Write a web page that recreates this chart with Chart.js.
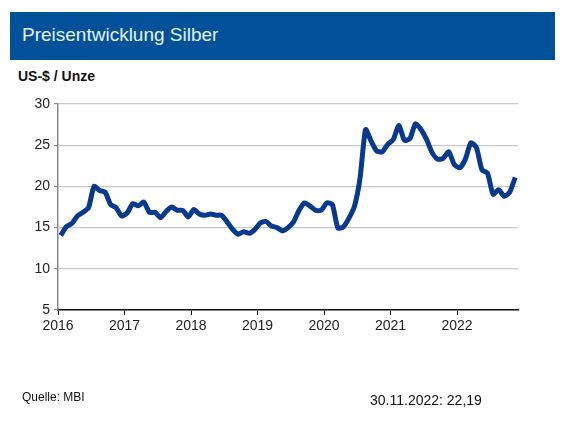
<!DOCTYPE html>
<html lang="de">
<head>
  <meta charset="UTF-8">
  <title>Preisentwicklung Silber</title>
  <script src="https://cdn.jsdelivr.net/npm/chart.js@4.4.0/dist/chart.umd.min.js"></script>
  <style>
    body { margin: 0; background: #fff; font-family: Arial, "Liberation Sans", sans-serif; }
    #wrap { position: relative; width: 565px; height: 426px; overflow: hidden; }
    #banner { position: absolute; left: 10px; top: 12px; width: 545px; height: 48px; background: #01519a; }
    #banner span { position: absolute; left: 12px; top: 12px; font-size: 19px; color: #e4f3fa; }
    #unit { position: absolute; left: 18px; top: 68px; font-size: 14px; font-weight: bold; color: #111; }
    #source { position: absolute; left: 22px; top: 390px; font-size: 12px; color: #111; }
    #last { position: absolute; left: 370px; top: 392px; font-size: 14px; color: #111; }
    #chart { position: absolute; left: 0; top: 0; }
  </style>
</head>
<body>
  <div id="wrap">
    <div id="banner"><span>Preisentwicklung Silber</span></div>
    <div id="unit">US-$ / Unze</div>
    <canvas id="chart" width="565" height="426"></canvas>
    <div id="source">Quelle: MBI</div>
    <div id="last">30.11.2022: 22,19</div>
  </div>

  <script>
    // Monatsdurchschnitt Silber, Jan 2016 - Nov 2022
    const yearLabels = ['2016', '2017', '2018', '2019', '2020', '2021', '2022'];
    const silver2016 = [14.05, 15.1, 15.5, 16.4, 16.85, 17.4, 20.0, 19.5, 19.3, 17.8, 17.4, 16.4];
    const silver2017 = [16.8, 17.9, 17.65, 18.1, 16.85, 16.85, 16.2, 16.95, 17.5, 17.1, 17.1, 16.3];
    const silver2018 = [17.2, 16.65, 16.5, 16.65, 16.5, 16.5, 15.7, 14.8, 14.2, 14.5, 14.3, 14.75];
    const silver2019 = [15.55, 15.75, 15.2, 15.0, 14.6, 15.0, 15.7, 17.1, 18.0, 17.6, 17.1, 17.1];
    const silver2020 = [18.0, 17.8, 14.95, 15.1, 16.15, 17.6, 21.0, 26.9, 25.5, 24.3, 24.2, 25.1];
    const silver2021 = [25.7, 27.4, 25.6, 25.8, 27.6, 26.9, 25.7, 24.1, 23.3, 23.4, 24.2, 22.65];
    const silver2022 = [22.25, 23.3, 25.3, 24.7, 22.0, 21.6, 19.05, 19.6, 18.8, 19.3, 21.1];

    const silver = [].concat(silver2016, silver2017, silver2018, silver2019, silver2020, silver2021, silver2022);

    const ctx = document.getElementById('chart').getContext('2d');
    const chart = new Chart(ctx, {
      type: 'line',
      data: {
        datasets: [{
          label: 'Silber',
          data: silver.map((value, index) => ({ x: index + 0.5, y: value })),
          borderColor: '#07398f',
          borderWidth: 5,
          pointRadius: 0,
          tension: 0.2,
          fill: false
        }]
      },
      options: {
        responsive: false,
        animation: false,
        layout: { padding: { left: 0, top: 104, right: 47, bottom: 86 } },
        plugins: { legend: { display: false }, tooltip: { enabled: false } },
        scales: {
          x: {
            type: 'linear',
            min: 0,
            max: 83,
            afterBuildTicks: scale => {
              scale.ticks = yearLabels.map((y, k) => ({ value: k * 12 }));
            },
            afterFit: scale => { scale.height = 30; },
            ticks: {
              color: '#222',
              font: { family: 'Arial, "Liberation Sans"', size: 14 },
              padding: 3,
              maxRotation: 0,
              callback: value => yearLabels[value / 12]
            },
            grid: { drawOnChartArea: false, tickLength: 5, tickColor: '#111' },
            border: { color: '#111', width: 1.5 }
          },
          y: {
            min: 5,
            max: 30,
            afterFit: scale => { scale.width = 58; },
            ticks: {
              stepSize: 5,
              color: '#222',
              font: { family: 'Arial, "Liberation Sans"', size: 14 },
              padding: 4
            },
            grid: { color: '#c8c8c8', lineWidth: 1.2, tickLength: 4, tickColor: '#888' },
            border: { color: '#888', width: 1.5 }
          }
        }
      }
    });
  </script>
</body>
</html>
